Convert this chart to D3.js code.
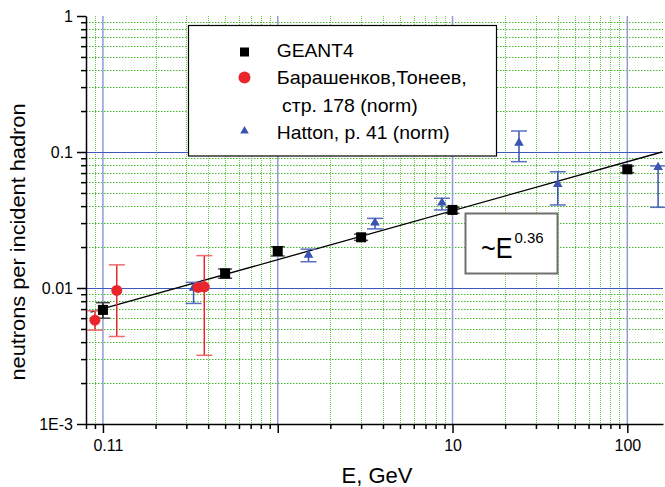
<!DOCTYPE html>
<html><head><meta charset="utf-8">
<script src="https://cdn.jsdelivr.net/npm/d3@7"></script>
<style>
html,body{margin:0;padding:0;background:#fff;}
svg{display:block;font-family:Arial,"Liberation Sans",sans-serif;}
</style></head>
<body>
<svg id="c" width="665" height="487"></svg>
<script>
// ---- data ----
const geantE  = [0.1, 0.5, 1, 3, 10, 100];
const geantY  = [0.0069, 0.0128, 0.0187, 0.0236, 0.0375, 0.0746];
const geantLo = [0.0060, 0.0118, 0.0172, 0.0224, 0.0354, 0.0705];
const geantHi = [0.0078, 0.0138, 0.0201, 0.0249, 0.0392, 0.0789];

const baraE  = [0.09, 0.12, 0.35, 0.38];
const baraY  = [0.0058, 0.0096, 0.0101, 0.0102];
const baraLo = [0.0049, 0.0044, 0.0101, 0.0032];
const baraHi = [0.0068, 0.0148, 0.0101, 0.0173];

const hattonE  = [0.33, 1.5, 3.6, 8.7, 24, 40, 150];
const hattonY  = [0.0100, 0.0175, 0.0302, 0.0424, 0.1165, 0.0579, 0.0772];
const hattonLo = [0.0077, 0.0156, 0.0272, 0.0375, 0.0849, 0.0408, 0.0392];
const hattonHi = [0.0110, 0.0193, 0.0325, 0.0457, 0.1427, 0.0716, 0.0790];

const fitE = [0.085, 158];
const fitY = [0.00665, 0.1];

const xMajor = [0.1, 1, 10, 100];
const xLabels = ["0.11", "", "10", "100"];
const yMajor = [0.001, 0.01, 0.1, 1];
const yLabels = ["1E-3", "0.01", "0.1", "1"];

const seriesNames = ["GEANT4", "Барашенков,Тонеев,", " стр. 178 (norm)", "Hatton, p. 41 (norm)"];
const xTitle = "E, GeV";
const yTitle = "neutrons per incident hadron";
const fitBase = "~E", fitExp = "0.36";

// ---- drawing ----
const svg = d3.select("#c");
const x = d3.scaleLog().domain([0.08, 160]).range([86, 663]);
const y = d3.scaleLog().domain([1e-3, 1]).range([424, 16]);
const [x0, x1] = x.range(), [y0, y1] = y.range();

const isMajor = (v, arr) => arr.some(m => Math.abs(Math.log10(v) - Math.log10(m)) < 1e-6);
const xMinor = x.ticks().filter(v => !isMajor(v, xMajor));
const yMinor = y.ticks().filter(v => !isMajor(v, yMajor));

// minor grid (green dotted)
svg.append("g").selectAll("line").data(xMinor).join("line")
  .attr("x1", d => Math.round(x(d)) + 0.5).attr("x2", d => Math.round(x(d)) + 0.5)
  .attr("y1", y1).attr("y2", y0)
  .attr("stroke", "#6cc850").attr("stroke-width", 1).attr("stroke-dasharray", "1,1");
svg.append("g").selectAll("line").data(yMinor).join("line")
  .attr("y1", d => Math.round(y(d)) + 0.5).attr("y2", d => Math.round(y(d)) + 0.5)
  .attr("x1", x0).attr("x2", x1)
  .attr("stroke", "#44b82c").attr("stroke-width", 1).attr("stroke-dasharray", "1.5,1.5");

// major grid (blue)
svg.append("g").selectAll("line").data(xMajor).join("line")
  .attr("x1", d => x(d)).attr("x2", d => x(d))
  .attr("y1", y1).attr("y2", y0)
  .attr("stroke", "#8e9cd8").attr("stroke-width", 1.5);
svg.append("g").selectAll("line").data(yMajor.filter(v => v > 1e-3 && v < 1)).join("line")
  .attr("y1", d => Math.round(y(d)) + 0.5).attr("y2", d => Math.round(y(d)) + 0.5)
  .attr("x1", x0).attr("x2", x1)
  .attr("stroke", "#4058b8").attr("stroke-width", 1.2);

// axes
const axStyle = g => {
  g.select(".domain").attr("stroke", "#000").attr("stroke-width", 1.5);
  g.selectAll(".tick line").attr("stroke", "#000").attr("stroke-width", 1.5);
  g.selectAll("text").attr("fill", "#000").style("font-size", "16px")
   .style("font-family", "Arial, 'Liberation Sans', sans-serif");
};
const xAx = svg.append("g").attr("transform", `translate(0,${y0})`)
  .call(d3.axisBottom(x).tickValues(xMajor).tickSize(9).tickPadding(7)
        .tickFormat((d, i) => xLabels[i]).tickSizeOuter(0));
axStyle(xAx);
xAx.selectAll(".tick text").attr("dx", (d, i) => i === 0 ? 5 : 0);
const xAxMin = svg.append("g").attr("transform", `translate(0,${y0})`)
  .call(d3.axisBottom(x).tickValues(xMinor).tickSize(5).tickFormat("").tickSizeOuter(0));
axStyle(xAxMin); xAxMin.select(".domain").remove();

const yAx = svg.append("g").attr("transform", `translate(${x0},0)`)
  .call(d3.axisLeft(y).tickValues(yMajor).tickSize(9).tickPadding(4)
        .tickFormat((d, i) => yLabels[i]).tickSizeOuter(0));
axStyle(yAx);
const yAxMin = svg.append("g").attr("transform", `translate(${x0},0)`)
  .call(d3.axisLeft(y).tickValues(yMinor).tickSize(5).tickFormat("").tickSizeOuter(0));
axStyle(yAxMin); yAxMin.select(".domain").remove();

// axis titles
svg.append("text").attr("x", 377).attr("y", 483).attr("text-anchor", "middle")
  .style("font-size", "22px").text(xTitle);
svg.append("text").attr("transform", "translate(25,242) rotate(-90)")
  .attr("text-anchor", "middle").style("font-size", "21px")
  .attr("textLength", 277).attr("lengthAdjust", "spacingAndGlyphs").text(yTitle);

// fit line
const line = d3.line().x(d => x(d[0])).y(d => y(d[1]));
svg.append("path").datum(fitE.map((e, i) => [e, fitY[i]]))
  .attr("d", line).attr("stroke", "#000").attr("stroke-width", 1.3).attr("fill", "none");

// error bars helper
function errBars(E, lo, hi, col, capCol, capW) {
  const g = svg.append("g");
  E.forEach((e, i) => {
    if (Math.abs(hi[i] - lo[i]) < 1e-9) return;
    const cx = x(e);
    g.append("line").attr("x1", cx).attr("x2", cx).attr("y1", y(lo[i])).attr("y2", y(hi[i]))
      .attr("stroke", col).attr("stroke-width", 1.5);
    [lo[i], hi[i]].forEach(v => {
      g.append("line").attr("x1", cx - capW / 2).attr("x2", cx + capW / 2)
        .attr("y1", y(v)).attr("y2", y(v)).attr("stroke", capCol).attr("stroke-width", 1.5);
    });
  });
}
errBars(hattonE, hattonLo, hattonHi, "#3a52b0", "#5a6ec0", 16);
errBars(baraE, baraLo, baraHi, "#e8262b", "#f06a6e", 16);
errBars(geantE, geantLo, geantHi, "#111", "#444", 14);

const tri = d3.symbol().type(d3.symbolTriangle);
// Hatton triangles
svg.append("g").selectAll("path").data(hattonE).join("path")
  .attr("transform", (d, i) => `translate(${x(d)},${y(hattonY[i])})`)
  .attr("d", tri.size(40)()).attr("fill", "#3a52b0");
// red circles
svg.append("g").selectAll("circle").data(baraE).join("circle")
  .attr("cx", d => x(d)).attr("cy", (d, i) => y(baraY[i])).attr("r", 5.5)
  .attr("fill", "#e8262b");
// GEANT4 squares
svg.append("g").selectAll("rect").data(geantE).join("rect")
  .attr("x", d => x(d) - 5).attr("y", (d, i) => y(geantY[i]) - 5)
  .attr("width", 10).attr("height", 10).attr("fill", "#000");

// legend
const lg = svg.append("g");
lg.append("rect").attr("x", 188.5).attr("y", 25.5).attr("width", 308).attr("height", 130.5)
  .attr("fill", "#fff").attr("stroke", "#000").attr("stroke-width", 1.2);
lg.append("rect").attr("x", 240).attr("y", 47.5).attr("width", 9).attr("height", 9).attr("fill", "#000");
lg.append("circle").attr("cx", 244.5).attr("cy", 77.5).attr("r", 6).attr("fill", "#e8262b");
lg.append("path").attr("transform", "translate(244.5,131)").attr("d", tri.size(32)()).attr("fill", "#3a52b0");
const ly = [57, 84, 111.5, 138.5], lx = [276.7, 276.7, 276.7, 276.7];
const lw = [77, 190, 141, 173];
seriesNames.forEach((t, i) => {
  lg.append("text").attr("x", lx[i]).attr("y", ly[i]).style("font-size", "19px")
    .attr("xml:space", "preserve").style("white-space", "pre")
    .attr("textLength", lw[i]).attr("lengthAdjust", "spacingAndGlyphs").text(t);
});

// fit label box
const fb = svg.append("g");
fb.append("rect").attr("x", 465.5).attr("y", 213.5).attr("width", 92).attr("height", 60)
  .attr("fill", "#fff").attr("stroke", "#707070").attr("stroke-width", 2);
fb.append("text").attr("x", 481).attr("y", 257.5).style("font-size", "29px")
  .attr("textLength", 31.5).attr("lengthAdjust", "spacingAndGlyphs").text(fitBase);
fb.append("text").attr("x", 514.5).attr("y", 242.5).style("font-size", "15px").text(fitExp);
</script>
</body></html>
